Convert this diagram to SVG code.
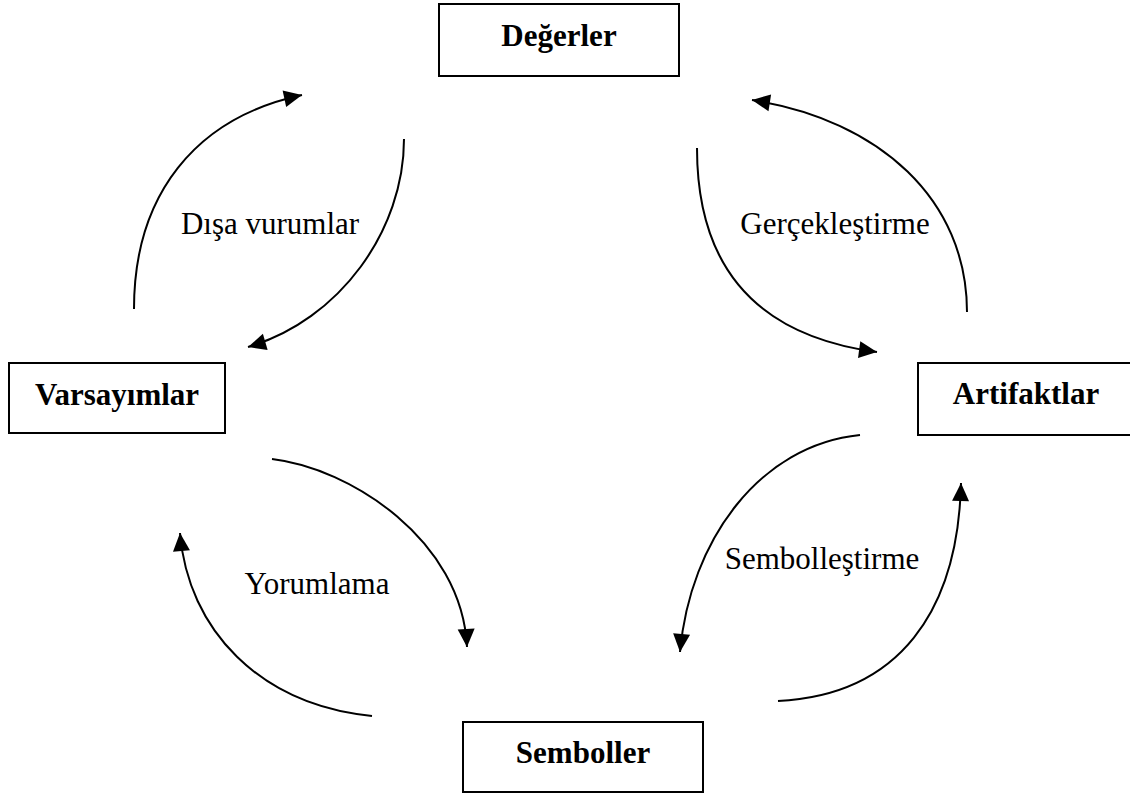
<svg xmlns="http://www.w3.org/2000/svg" width="1130" height="794" viewBox="0 0 1130 794">
  <style>
    .box { fill: #fff; stroke: #000; stroke-width: 2; }
    .node-label { font-family: "Liberation Serif", "Times New Roman", serif; font-weight: bold; font-size: 31px; fill: #000; text-anchor: middle; }
    .edge-label { font-family: "Liberation Serif", "Times New Roman", serif; font-size: 31px; fill: #000; text-anchor: middle; }
    .arc { fill: none; stroke: #000; stroke-width: 2; marker-end: url(#head); }
  </style>
  <defs>
    <marker id="head" markerUnits="userSpaceOnUse" markerWidth="20" markerHeight="18" refX="18" refY="8.5" orient="auto" overflow="visible">
      <path d="M0,0 L18,8.5 L0,17 z" fill="#000"/>
    </marker>
  </defs>
  <rect width="1130" height="794" fill="#fff"/>

  <g id="degerler">
    <rect class="box" x="439" y="4" width="240" height="72"/>
    <text class="node-label" x="559" y="46">Değerler</text>
  </g>
  <g id="varsayimlar">
    <rect class="box" x="9" y="363" width="216" height="70"/>
    <text class="node-label" x="117" y="405">Varsayımlar</text>
  </g>
  <g id="artifaktlar">
    <rect class="box" x="918" y="363" width="230" height="72"/>
    <text class="node-label" x="1026" y="404">Artifaktlar</text>
  </g>
  <g id="semboller">
    <rect class="box" x="463" y="722" width="240" height="70"/>
    <text class="node-label" x="583" y="763">Semboller</text>
  </g>

  <g id="connectors">
    <!-- Dışa vurumlar -->
    <path class="arc" d="M134,309 C134,195 195,118 302,95"/>
    <path class="arc" d="M404,139 C404,230 340,320 248,347"/>
    <!-- Gerçekleştirme -->
    <path class="arc" d="M697,148 C697,260 750,335 877,352"/>
    <path class="arc" d="M967,312 C967,200 880,120 752,100"/>
    <!-- Yorumlama -->
    <path class="arc" d="M272,459 C350,468 462,540 467,647"/>
    <path class="arc" d="M372,716 C260,705 188,630 180,533"/>
    <!-- Sembolleştirme -->
    <path class="arc" d="M860,435 C760,445 690,540 680,652"/>
    <path class="arc" d="M778,701 C900,695 958,610 961,483"/>
  </g>

  <g id="edge-labels">
    <text class="edge-label" x="270" y="234">Dışa vurumlar</text>
    <text class="edge-label" x="835" y="234">Gerçekleştirme</text>
    <text class="edge-label" x="317" y="594">Yorumlama</text>
    <text class="edge-label" x="822" y="569">Sembolleştirme</text>
  </g>
</svg>
